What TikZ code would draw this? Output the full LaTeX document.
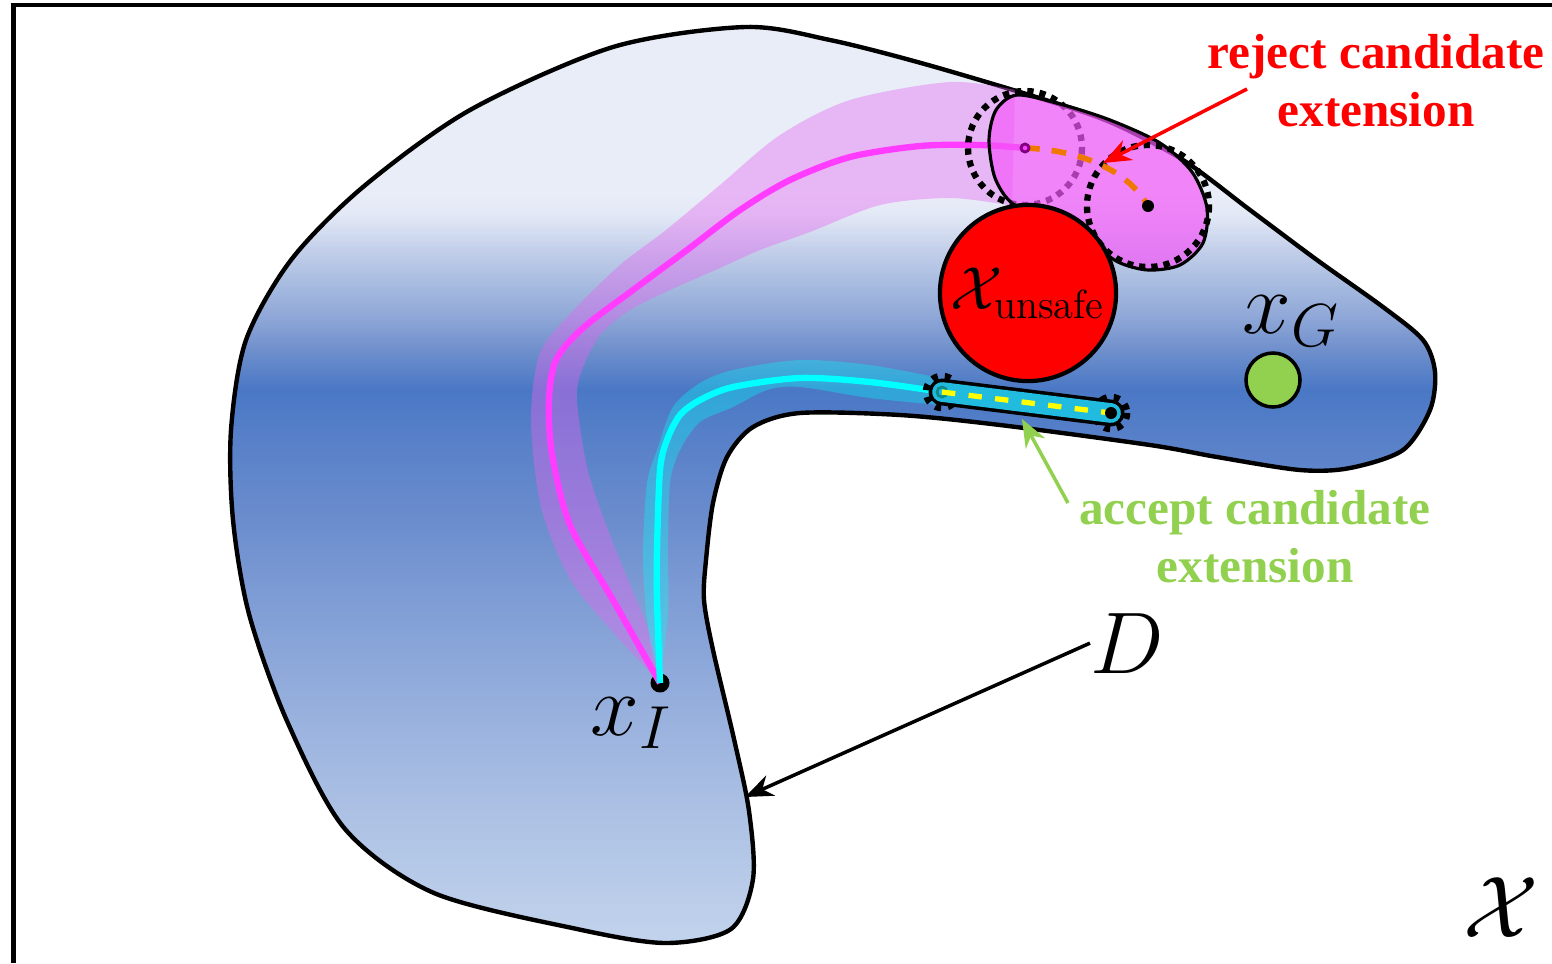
\documentclass[tikz,border=0pt]{standalone}
\usepackage{fontspec}
\newfontfamily\lblfont{Liberation Serif}
\usepackage{tikz}
\usetikzlibrary{arrows.meta,positioning,calc}
\definecolor{ink}      {HTML}{000000}
\definecolor{rejred}   {HTML}{FF0000}
\definecolor{accgreen} {HTML}{92D050}
\definecolor{trajmag}  {HTML}{FF3CFF}
\definecolor{bandmag}  {HTML}{E664F0}
\definecolor{hullpink} {HTML}{F358F9}
\definecolor{hotpink}  {HTML}{E02CB4}
\definecolor{extorange}{HTML}{F07800}
\definecolor{trajcyan} {HTML}{00FFFF}
\definecolor{capcyan}  {HTML}{22BBE0}
\definecolor{extyellow}{HTML}{FFFF00}
\definecolor{endteal}  {HTML}{0E8A8A}
% colours of the region D, bottom to top
\definecolor{dbot}{HTML}{C2D3EC}
\definecolor{dA}  {HTML}{AABFE3}
\definecolor{dB}  {HTML}{7F9DD5}
\definecolor{dC}  {HTML}{6A8CCD}
\definecolor{dD}  {HTML}{5A82C9}
\definecolor{dmid}{HTML}{4A78C5}
\definecolor{dE}  {HTML}{7090CC}
\definecolor{dF}  {HTML}{90A8D8}
\definecolor{dG}  {HTML}{A8BCE0}
\definecolor{dH}  {HTML}{C3CFEA}
\definecolor{dI}  {HTML}{E2E8F5}
\definecolor{dtop}{HTML}{E9EDF8}
\pgfdeclareverticalshading{dgrad}{100bp}{color(0bp)=(dbot); color(25bp)=(dbot);
  color(32.8bp)=(dA); color(43.7bp)=(dB); color(48.3bp)=(dC); color(51.9bp)=(dD);
  color(55.2bp)=(dmid); color(57.4bp)=(dE); color(59.2bp)=(dF); color(61bp)=(dG);
  color(62.8bp)=(dH); color(64.7bp)=(dI); color(65.8bp)=(dtop); color(100bp)=(dtop)}
\tikzset{
  dotnode/.style   ={circle, fill=ink, inner sep=0pt, minimum size=0.19cm},
  smalldot/.style  ={circle, fill=ink, inner sep=0pt, minimum size=0.12cm},
  goalnode/.style  ={circle, draw=ink, fill=accgreen, line width=1pt,
                     inner sep=0pt, minimum size=0.54cm},
  unsafenode/.style={circle, draw=ink, fill=rejred, line width=1.2pt,
                     inner sep=0pt, minimum size=1.76cm,
                     font=\fontsize{16.5}{16.5}\selectfont},
  mathlbl/.style   ={inner sep=0pt, font=\fontsize{24}{24}\selectfont},
  rejlbl/.style    ={text=rejred, align=center, inner sep=0pt,
                     font=\lblfont\bfseries\fontsize{14}{16.5}\selectfont},
  acclbl/.style    ={text=accgreen, align=center, inner sep=0pt,
                     font=\lblfont\bfseries\fontsize{14}{16.5}\selectfont},
  redarr/.style    ={-{Stealth[length=2.8mm,width=2.2mm]}, line width=1pt, color=rejred},
  greenarr/.style  ={-{Stealth[length=2.8mm,width=2.2mm]}, line width=1pt, color=accgreen},
  blackarr/.style  ={-{Stealth[length=2.8mm,width=2.2mm]}, line width=1pt, color=ink},
  dotring/.style   ={draw=ink, line width=1.8pt, dash pattern=on 1.8pt off 1.7pt},
  toothring/.style ={draw=ink, line width=1.9pt, dash pattern=on 1.7pt off 2pt},
  magline/.style   ={draw=trajmag, line width=1.8pt},
  cyanline/.style  ={draw=trajcyan, line width=1.8pt},
}
\begin{document}
\begin{tikzpicture}[x=0.01cm,y=-0.01cm]
        \useasboundingbox (0,0) rectangle (1552,963);
        % frame of the space
        \draw[line width=1.2pt,line join=miter] (13.5,963) -- (13.5,5.3) -- (1552,5.3);
        % region D
        \shadedraw[shading=dgrad,draw=ink,line width=1.25pt] plot[smooth cycle] coordinates {
          (231,430) (246,340) (291,260) (363,187) (470,110) (613,47) (745,27) (830,40)
          (921,63) (1036,97) (1110,122) (1183,160) (1250,210) (1317,260) (1383,307)
          (1423,340) (1435,372) (1430,410) (1403,450) (1350,468) (1300,470) (1217,457)
          (1150,445) (1000,425) (900,415) (800,413) (753,427) (727,457) (713,503)
          (706,560) (704,600) (713,650) (734,739) (749,811) (753,879) (731,929)
          (666,943) (577,929) (434,893) (345,829) (287,721) (249,614) (233,520)};
        \node[dotnode] (xI) at (660,683) {};
        \coordinate (c1) at (1025,148);
        \coordinate (c2) at (1148,206);
        \coordinate (cs) at (942,392);
        \coordinate (ce) at (1111,413);
        % tubes round the two trajectories
        \fill[bandmag,opacity=0.4] plot[smooth] coordinates {(xI.center) (613,632) (570,579)
          (541,507) (531,420) (540,353) (572,312) (620,265) (666,230) (720,185) (780,135)
          (850,100) (950,82) (1015,90)} -- (1012,205)
          -- plot[smooth] coordinates {(1008,205) (950,198) (880,205) (810,232) (760,250)
          (720,268) (670,290) (630,310) (600,335) (582,370) (577,400) (588,471) (613,543)
          (649,632) (xI.center)} -- cycle;
        \fill[trajcyan,opacity=0.33] plot[smooth] coordinates {(xI.center) (650,640) (645,600)
          (643,550) (647,483) (657,450) (673,407) (700,383) (733,370) (800,360) (870,365)
          (940,378)}
          -- plot[smooth] coordinates {(940,405) (870,398) (800,387) (767,390) (733,407)
          (700,422) (680,450) (670,483) (668,550) (668,614) (xI.center)} -- cycle;
        \draw[magline] plot[smooth] coordinates {(xI.center) (613,600) (570,525) (552,454)
          (549,400) (556,360) (583,328) (633,290) (687,250) (740,210) (790,180) (850,157)
          (920,146) (980,145) (c1)};
        \draw[cyanline] plot[smooth] coordinates {(xI.center) (657,600) (657,550) (660,470)
          (667,440) (680,415) (700,400) (733,387) (800,378) (870,382) (cs)};
        % rejected extension
        \draw[dotring] (c1) circle (57);
        \fill[hotpink,opacity=0.85] (1013,205) .. controls (1045,198) and (1085,215) ..
          (1112,258) -- (1060,250) -- cycle;
        \filldraw[fill=hullpink,fill opacity=0.7,draw=ink,line width=0.9pt]
          plot[smooth cycle] coordinates {(1013,204) (995,178) (989,140) (996,110) (1017,95)
          (1060,104) (1110,120) (1160,143) (1192,172) (1207,208) (1203,243) (1180,265)
          (1148,270) (1118,262) (1090,242) (1050,218)};
        \draw[dotring] (c2) circle (61);
        \node[unsafenode] (unsafe) at (1028,293) {$\mathcal{X}_{\mathrm{unsafe}}$};
        \draw[extorange,line width=1.6pt,dash pattern=on 4.2pt off 3.4pt]
          (c1) .. controls (1080,150) and (1128,170) .. (c2);
        \draw[violet,line width=0.8pt,fill=trajmag] (c1) circle (4);
        \node[smalldot] (c2dot) at (c2) {};
        % accepted extension
        \draw[toothring] (cs) circle (16);
        \draw[toothring] (ce) circle (16);
        \draw[ink,line width=7.6pt,line cap=round] (cs) -- (ce);
        \draw[capcyan,line width=5.6pt,line cap=round] (cs) -- (ce);
        \draw[endteal,line width=0.8pt] (cs) circle (5);
        \draw[extyellow,line width=1.5pt,dash pattern=on 3.8pt off 3.8pt] (cs) -- (ce);
        \node[smalldot] (cedot) at (ce) {};
        % goal
        \node[goalnode] (xG) at (1273,380) {};
        % labels
        \node[mathlbl,anchor=base west] (xIlbl) at (590,735) {$x_I$};
        \node[mathlbl,anchor=base west] (xGlbl) at (1242,333) {$x_G$};
        \node[mathlbl,anchor=base west] (Dlbl) at (1090,673) {$D$};
        \node[mathlbl,anchor=base west] (spacelbl) at (1463,937) {$\mathcal{X}$};
        \node[rejlbl] (rejtxt) at (1376,81) {reject candidate\\extension};
        \node[acclbl] (acctxt) at (1255,537) {accept candidate\\extension};
        % pointers
        \coordinate (rejfrom) at (1247,89);
        \coordinate (rejto) at (1103,163);
        \coordinate (accfrom) at (1068,503);
        \coordinate (accto) at (1022,419);
        \coordinate (Dto) at (745,797);
        \draw[redarr] (rejfrom) -- (rejto);
        \draw[greenarr] (accfrom) -- (accto);
        \draw[blackarr] (Dlbl.west) -- (Dto);
      \end{tikzpicture}
\end{document}
